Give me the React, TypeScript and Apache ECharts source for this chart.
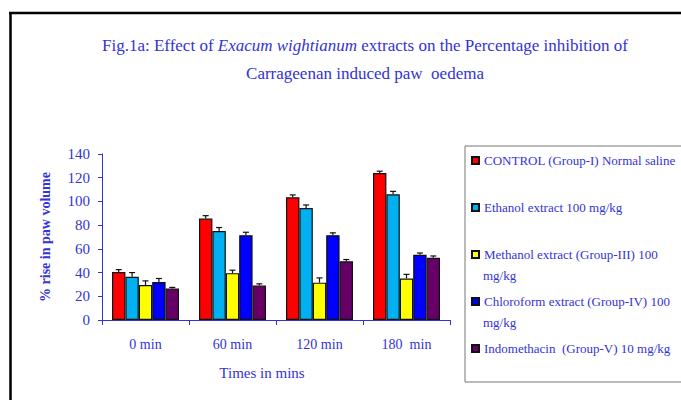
import React, { useEffect, useRef } from "react";
import * as echarts from "echarts";

const categories = ["0 min", "60 min", "120 min", "180  min"];
const seriesNames = [
  "CONTROL (Group-I) Normal saline",
  "Ethanol extract 100 mg/kg",
  "Methanol extract (Group-III) 100 mg/kg",
  "Chloroform extract (Group-IV) 100 mg/kg",
  "Indomethacin  (Group-V) 10 mg/kg",
];
const legendFirstLines = [
  "CONTROL (Group-I) Normal saline",
  "Ethanol extract 100 mg/kg",
  "Methanol extract (Group-III) 100",
  "Chloroform extract (Group-IV) 100",
  "Indomethacin  (Group-V) 10 mg/kg",
];
const controlValues = [40.5, 85.5, 103.5, 124];
const ethanolValues = [36.5, 75, 94.5, 106];
const methanolValues = [29.5, 39.5, 31.5, 35];
const chloroformValues = [32, 71.5, 71.5, 55];
const indomethacinValues = [26.5, 29, 49.5, 52.5];
const controlErrors = [2, 2.5, 2, 1.5];
const ethanolErrors = [3.5, 3, 2.5, 2.5];
const methanolErrors = [3.5, 2.5, 4, 3.5];
const chloroformErrors = [3, 2.5, 2, 1.5];
const indomethacinErrors = [1, 1.5, 1.5, 1.5];
const yTicks = { min: 0, max: 140, interval: 20 };

const colors = ["#FF0000", "#00B0F0", "#FFFF00", "#0000FF", "#660066"];
const textColor = "#3333D6";
const serif = "Liberation Serif";
const CATEGORY_GAP = 0.23;

export default function App() {
  const ref = useRef<HTMLDivElement>(null);
  useEffect(() => {
    if (!ref.current) return;
    const chart = echarts.init(ref.current, undefined, { renderer: "svg" });
    const values = [controlValues, ethanolValues, methanolValues, chloroformValues, indomethacinValues];
    const errors = [controlErrors, ethanolErrors, methanolErrors, chloroformErrors, indomethacinErrors];

    const barSeries = values.map((vals, i) => ({
      type: "bar",
      name: seriesNames[i],
      data: vals,
      barGap: "0%",
      barCategoryGap: CATEGORY_GAP * 100 + "%",
      itemStyle: { color: colors[i], borderColor: "#111", borderWidth: 1.2 },
    }));

    const errSeries = values.map((vals, i) => ({
      type: "custom",
      name: "err" + i,
      z: 5,
      data: vals.map((v, j) => [j, v, errors[i][j]]),
      renderItem: (params: any, api: any) => {
        const j = api.value(0);
        const v = api.value(1);
        const e = api.value(2);
        const base = api.coord([j, v]);
        const top = api.coord([j, v + e]);
        const band = api.size([1, 0])[0];
        const bw = (band * (1 - CATEGORY_GAP)) / 5;
        const x = base[0] + (i - 2) * bw;
        return {
          type: "group",
          children: [
            { type: "line", shape: { x1: x, y1: base[1], x2: x, y2: top[1] }, style: { stroke: "#111", lineWidth: 1.2 } },
            { type: "line", shape: { x1: x - 3, y1: top[1], x2: x + 3, y2: top[1] }, style: { stroke: "#111", lineWidth: 1.2 } },
          ],
        };
      },
    }));

    chart.setOption({
      animation: false,
      title: {
        left: 360,
        top: 26,
        textAlign: "center",
        text: "{n|Fig.1a: Effect of }{i|Exacum wightianum}{n| extracts on the Percentage inhibition of}\n{n|Carrageenan induced paw  oedema}",
        textStyle: {
          fontWeight: "normal",
          rich: {
            n: { fontFamily: serif, fontSize: 17, fontWeight: "normal", color: textColor, lineHeight: 28 },
            i: { fontFamily: serif, fontSize: 17, fontWeight: "normal", fontStyle: "italic", color: textColor, lineHeight: 28 },
          },
        },
      },
      legend: {
        data: seriesNames,
        orient: "vertical",
        left: 466,
        top: 149,
        itemWidth: 7,
        itemHeight: 7,
        itemGap: 34,
        icon: "rect",
        formatter: (name: string) => legendFirstLines[seriesNames.indexOf(name)],
        textStyle: { fontFamily: serif, fontSize: 13, color: textColor },
      },
      grid: { left: 102, right: 231, top: 154, bottom: 80 },
      xAxis: {
        type: "category",
        data: categories,
        name: "Times in mins",
        nameLocation: "middle",
        nameGap: 45,
        nameTextStyle: { fontFamily: serif, fontSize: 15, color: textColor, padding: [0, 28, 0, 0] },
        axisLine: { lineStyle: { color: "#3333D6", width: 1 } },
        axisTick: { show: true, length: 5, lineStyle: { color: "#3333D6" } },
        axisLabel: { fontFamily: serif, fontSize: 14, color: textColor, margin: 17 },
      },
      yAxis: {
        type: "value",
        min: yTicks.min,
        max: yTicks.max,
        interval: yTicks.interval,
        name: "% rise in paw volume",
        nameLocation: "middle",
        nameGap: 50,
        nameTextStyle: { fontFamily: serif, fontSize: 14, fontWeight: "bold", color: textColor },
        axisLine: { show: true, lineStyle: { color: "#3333D6", width: 1 } },
        axisTick: { show: true, length: 4, lineStyle: { color: "#3333D6" } },
        splitLine: { show: false },
        axisLabel: { fontFamily: serif, fontSize: 15, color: textColor, margin: 12 },
      },
      graphic: [
        { type: "line", shape: { x1: 9, y1: 13, x2: 681, y2: 13 }, style: { stroke: "#000", lineWidth: 2.5 } },
        { type: "line", shape: { x1: 10.5, y1: 13, x2: 10.5, y2: 400 }, style: { stroke: "#000", lineWidth: 2.5 } },
        { type: "rect", shape: { x: 465, y: 146, width: 230, height: 236 }, style: { fill: "none", stroke: "#777", lineWidth: 1 } },
        { type: "text", x: 483, y: 275, style: { text: "mg/kg", fontFamily: serif, fontSize: 13, fill: textColor, verticalAlign: "middle" } },
        { type: "text", x: 483, y: 322, style: { text: "mg/kg", fontFamily: serif, fontSize: 13, fill: textColor, verticalAlign: "middle" } },
      ],
      series: [...barSeries, ...errSeries],
    });
    return () => chart.dispose();
  }, []);
  return <div ref={ref} style={{ width: 681, height: 400, position: "absolute", left: 0, top: 0 }} />;
}
